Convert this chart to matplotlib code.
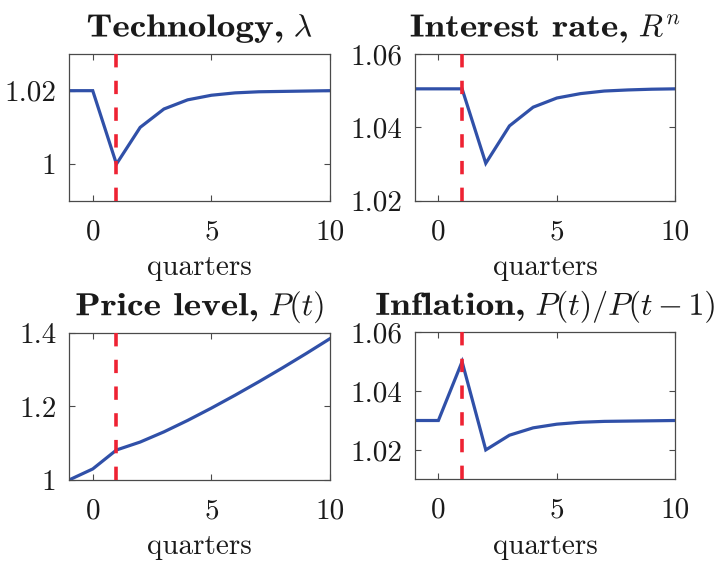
import numpy as np
import matplotlib
matplotlib.use("Agg")
import matplotlib.pyplot as plt
from matplotlib.textpath import TextPath
from matplotlib.patches import PathPatch
from matplotlib.font_manager import FontProperties
from matplotlib.transforms import Affine2D, IdentityTransform

plt.rcParams['font.family'] = 'cmr10'
plt.rcParams['mathtext.fontset'] = 'cm'
plt.rcParams['axes.formatter.use_mathtext'] = True
plt.rcParams['axes.unicode_minus'] = False

# Impulse responses to a technology shock at quarter 1
quarters = [-1, 0, 1, 2, 3, 4, 5, 6, 7, 8, 9, 10]
technology = [1.02, 1.02, 1.0, 1.01, 1.015, 1.0175, 1.01875, 1.0194, 1.0197, 1.0198, 1.0199, 1.02]
interest_rate = [1.0505, 1.0505, 1.0505, 1.0302, 1.0404, 1.0455, 1.0480, 1.0492, 1.0499, 1.0502, 1.0504, 1.0505]
price_level = [1.0, 1.03, 1.0815, 1.1031, 1.1307, 1.1618, 1.1952, 1.2303, 1.2668, 1.3046, 1.3436, 1.3839]
inflation = [1.03, 1.03, 1.05, 1.02, 1.025, 1.0275, 1.02875, 1.0294, 1.0297, 1.0298, 1.0299, 1.03]
shock_quarter = 1

title_words = ['Technology,', 'Interest rate,', 'Price level,', 'Inflation,']
title_symbols = [r'$\lambda$', r'$R^n$', r'$P(t)$', r'$P(t)/P(t-1)$']
series = [technology, interest_rate, price_level, inflation]
ylims = [(0.99, 1.03), (1.02, 1.06), (1.0, 1.4), (1.01, 1.06)]
yticks = [[1.0, 1.02], [1.02, 1.04, 1.06], [1.0, 1.2, 1.4], [1.02, 1.04, 1.06]]
yticklabels = [['1', '1.02'], ['1.02', '1.04', '1.06'], ['1', '1.2', '1.4'], ['1.02', '1.04', '1.06']]

W, H = 726, 561
boxes = [(69, 54, 330, 200.7), (414.7, 54, 675.3, 200.7),
         (69, 332.7, 330, 480), (414.7, 332.3, 675.3, 479.3)]

fig = plt.figure(figsize=(W / 100, H / 100), dpi=100)
ink = '#1a1a1a'
spine = '#4a4a4a'

title_px = 31.9          # 23 pt at 100 dpi
bold_stretch = 1.17      # widen cmb10 towards bold-extended proportions
word_gap = 13.0


def draw_title(ax, word, symbol, gap_px):
    """Bold word followed by a math symbol, centred above the axes."""
    bold = TextPath((0, 0), word, size=title_px, prop=FontProperties(family='cmb10'))
    math = TextPath((0, 0), symbol, size=title_px, prop=FontProperties(family='cmr10'))
    be = bold.get_extents()
    me = math.get_extents()
    wb = be.width * bold_stretch
    total = wb + word_gap + me.width
    bb = ax.get_position()
    cx = (bb.x0 + bb.x1) / 2 * W
    top = (1 - bb.y1) * H
    base_y = H - (top - gap_px)
    x0 = cx - total / 2
    t_bold = Affine2D().translate(-be.x0, 0).scale(bold_stretch, 1).translate(x0, base_y)
    t_math = Affine2D().translate(-me.x0, 0).translate(x0 + wb + word_gap, base_y)
    for p, t in ((bold, t_bold), (math, t_math)):
        patch = PathPatch(p, transform=t + IdentityTransform(), facecolor=ink,
                          edgecolor='none', lw=0)
        fig.add_artist(patch)


for i in range(4):
    x0, y0, x1, y1 = boxes[i]
    ax = fig.add_axes([x0 / W, 1 - y1 / H, (x1 - x0) / W, (y1 - y0) / H])
    ax.plot(quarters, series[i], color='#3050a8', lw=2.3, zorder=2,
            solid_joinstyle='miter')
    ax.axvline(shock_quarter, color='#ee2233', lw=2.6, ls=(0, (3.7, 3.7)), zorder=3)
    ax.set_xlim(-1, 10)
    ax.set_ylim(*ylims[i])
    ax.set_xticks([0, 5, 10])
    ax.set_xticklabels(['0', '5', '10'])
    ax.set_yticks(yticks[i])
    ax.set_yticklabels(yticklabels[i])
    ax.tick_params(direction='in', top=True, right=True, length=4, width=0.8,
                   labelsize=21, colors=spine, labelcolor=ink)
    ax.tick_params(axis='x', pad=13)
    ax.tick_params(axis='y', pad=9)
    for s in ax.spines.values():
        s.set_color(spine)
        s.set_linewidth(0.9)
    ax.set_xlabel('quarters', fontsize=21, color=ink, labelpad=7)
    draw_title(ax, title_words[i], title_symbols[i], 17.5)

fig.savefig('out.png', dpi=100, facecolor='white')
